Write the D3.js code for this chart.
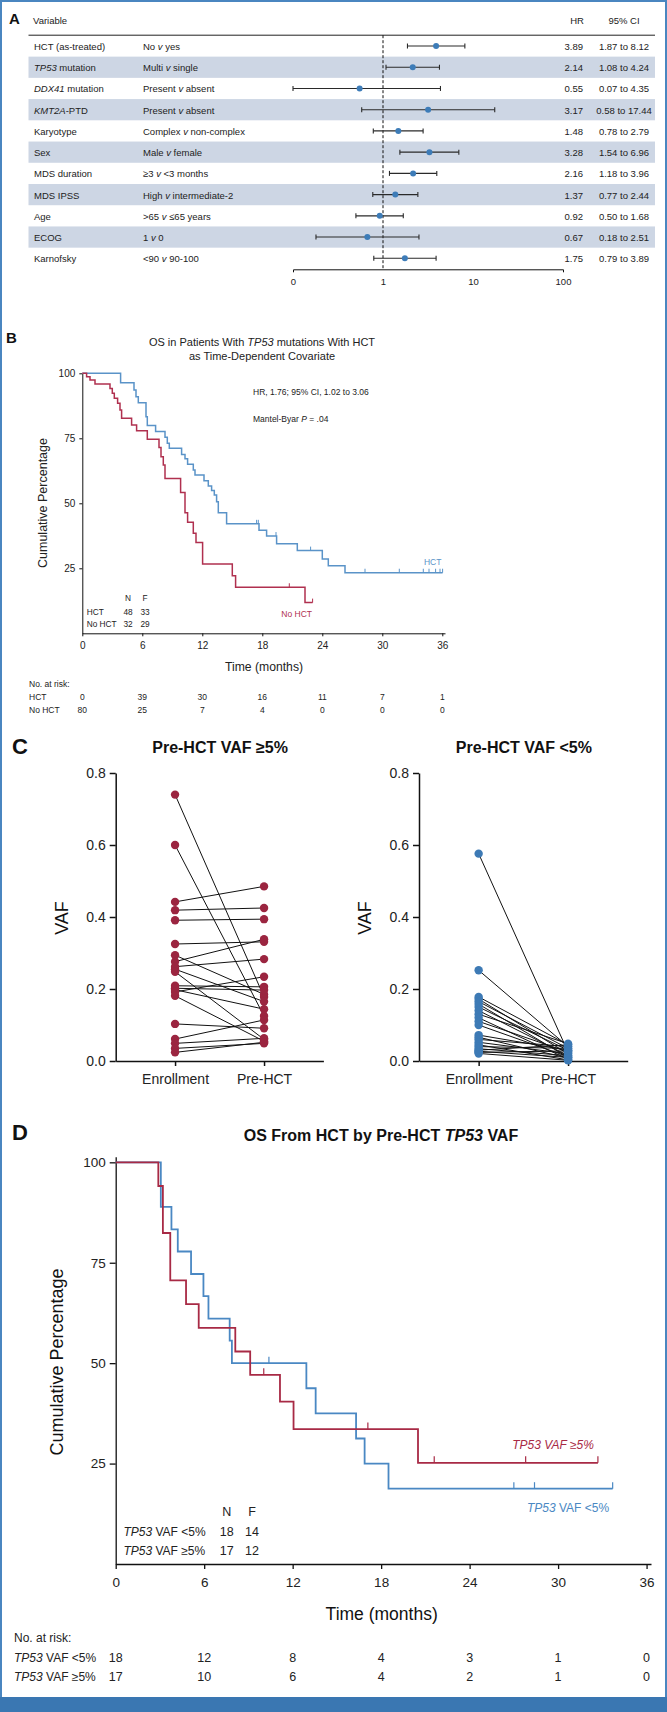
<!DOCTYPE html>
<html><head><meta charset="utf-8">
<script src="https://cdn.jsdelivr.net/npm/d3@7"></script>
<style>
body{margin:0;background:#fff;}
svg{display:block;font-family:"Liberation Sans",Arial,Helvetica,sans-serif;}
</style></head><body>
<svg id="fig" width="667" height="1712"></svg>
<script>
// ================= DATA =================
// Panel A: multivariable forest plot
const aVariables = ["HCT (as-treated)", "*TP53* mutation", "*DDX41* mutation", "*KMT2A*-PTD", "Karyotype", "Sex", "MDS duration", "MDS IPSS", "Age", "ECOG", "Karnofsky"];
const aComparisons = ["No *v* yes", "Multi *v* single", "Present *v* absent", "Present *v* absent", "Complex *v* non-complex", "Male *v* female", "≥3 *v* <3 months", "High *v* intermediate-2", ">65 *v* ≤65 years", "1 *v* 0", "<90 *v* 90-100"];
const aHR   = [3.89, 2.14, 0.55, 3.17, 1.48, 3.28, 2.16, 1.37, 0.92, 0.67, 1.75];
const aLow  = [1.87, 1.08, 0.07, 0.58, 0.78, 1.54, 1.18, 0.77, 0.50, 0.18, 0.79];
const aHigh = [8.12, 4.24, 4.35, 17.44, 2.79, 6.96, 3.96, 2.44, 1.68, 2.51, 3.89];
const aTicks = [0.1, 1, 10, 100];
const aTickLabels = ["0", "1", "10", "100"];

// Panel B: OS with HCT as time-dependent covariate
const bTicksX = [0, 6, 12, 18, 24, 30, 36];
const bTicksY = [25, 50, 75, 100];
const bHctTime = [0, 3.83, 5.17, 5.37, 5.6, 6.37, 6.5, 7.33, 8.27, 8.5, 8.7, 9.93, 10.27, 10.53, 11.1, 11.27, 12.17, 12.6, 12.93, 13.2, 13.43, 13.6, 14.43, 17.67, 18.43, 19.43, 21.5, 24.0, 24.6, 26.27, 36.03];
const bHctSurv = [100, 96.4, 93.6, 91.0, 88.7, 83.3, 79.9, 77.6, 75.4, 73.1, 71.2, 68.8, 67.1, 65.0, 62.8, 60.9, 58.7, 56.7, 54.9, 53.2, 50.6, 46.4, 42.1, 39.6, 37.4, 34.4, 31.8, 28.6, 26.0, 23.3, 23.3];
const bHctCensor = [17.43, 17.6, 19.37, 22.83, 28.27, 31.7, 34.1, 34.67, 35.33, 35.77, 36.03];
const bNoTime = [0, 0.43, 0.77, 1.27, 2.77, 3.0, 3.2, 3.53, 3.77, 3.93, 4.93, 5.43, 6.5, 7.67, 7.87, 8.1, 8.27, 9.83, 10.27, 10.53, 11.1, 11.37, 12.03, 15.0, 15.33, 22.27, 23.03];
const bNoSurv = [100, 98.7, 97.4, 95.9, 94.2, 92.3, 90.4, 88.5, 85.9, 82.7, 80.1, 77.9, 74.6, 71.5, 67.9, 64.7, 59.5, 54.2, 46.4, 42.7, 38.5, 34.9, 26.7, 22.1, 17.7, 11.8, 11.8];
const bNoCensor = [20.7, 23.03];
const bGroups = ["HCT", "No HCT"];
const bN = [48, 32];
const bF = [33, 29];
const bRiskHct = [0, 39, 30, 16, 11, 7, 1];
const bRiskNo = [80, 25, 7, 4, 0, 0, 0];

// Panel C: VAF at enrollment vs pre-HCT
const cCategories = ["Enrollment", "Pre-HCT"];
const cTicksY = [0, 0.2, 0.4, 0.6, 0.8];
const cHighEnroll = [0.74, 0.60, 0.442, 0.419, 0.391, 0.325, 0.294, 0.276, 0.262, 0.255, 0.248, 0.209, 0.202, 0.198, 0.192, 0.181, 0.103, 0.061, 0.049, 0.035, 0.024];
const cHighPre    = [0.178, 0.125, 0.485, 0.425, 0.394, 0.331, 0.185, 0.338, 0.283, 0.165, 0.06, 0.206, 0.197, 0.144, 0.234, 0.055, 0.091, 0.114, 0.063, 0.049, 0.052];
const cLowEnroll = [0.576, 0.252, 0.178, 0.172, 0.165, 0.158, 0.150, 0.140, 0.130, 0.120, 0.110, 0.100, 0.072, 0.066, 0.060, 0.052, 0.045, 0.040, 0.034, 0.030, 0.027, 0.024, 0.021];
const cLowPre    = [0.025, 0.040, 0.045, 0.020, 0.035, 0.010, 0.030, 0.015, 0.048, 0.005, 0.025, 0.012, 0.030, 0.008, 0.040, 0.020, 0.003, 0.035, 0.015, 0.045, 0.010, 0.028, 0.002];

// Panel D: OS from HCT by pre-HCT TP53 VAF
const dTicksX = [0, 6, 12, 18, 24, 30, 36];
const dTicksY = [25, 50, 75, 100];
const dLowTime = [0, 3.06, 3.78, 4.21, 5.11, 5.95, 6.29, 7.73, 7.88, 12.93, 13.56, 16.3, 16.88, 18.5, 33.7];
const dLowSurv = [100, 88.9, 83.3, 77.8, 72.2, 66.7, 61.1, 55.6, 50.0, 43.75, 37.5, 31.25, 25.0, 18.75, 18.75];
const dLowCensor = [10.39, 27.0, 28.4, 33.7];
const dHighTime = [0, 2.89, 3.2, 3.7, 4.77, 5.63, 8.11, 9.12, 11.14, 12.06, 20.5, 32.7];
const dHighSurv = [100, 94.1, 82.4, 70.6, 64.7, 58.8, 52.9, 47.1, 40.4, 33.6, 25.2, 25.2];
const dHighCensor = [10.04, 17.1, 21.6, 27.8, 32.7];
const dGroups = ["*TP53* VAF <5%", "*TP53* VAF ≥5%"];
const dN = [18, 17];
const dF = [14, 12];
const dRiskLow = [18, 12, 8, 4, 3, 1, 0];
const dRiskHigh = [17, 10, 6, 4, 2, 1, 0];

// ================= HELPERS =================
const svg = d3.select("#fig");
const BLUE_BORDER = "#4a86c0";
function rich(sel, str) {
  str.split("*").forEach((p, i) => {
    if (!p) return;
    const t = sel.append("tspan").text(p);
    if (i % 2) t.attr("font-style", "italic");
  });
  return sel;
}
function txt(x, y, str, opts = {}) {
  const t = svg.append("text").attr("x", x).attr("y", y)
    .attr("dominant-baseline", "central")
    .attr("font-size", opts.size || 10)
    .attr("text-anchor", opts.anchor || "start")
    .attr("fill", opts.fill || "#222");
  if (opts.weight) t.attr("font-weight", opts.weight);
  if (opts.italic) t.attr("font-style", "italic");
  if (opts.rotate) t.attr("transform", `rotate(-90,${x},${y})`);
  rich(t, str);
  return t;
}
function survAt(times, surv, t) {
  let s = surv[0];
  for (let i = 0; i < times.length; i++) if (times[i] <= t + 1e-9) s = surv[i];
  return s;
}
function styleAxis(g, size, color) {
  g.attr("font-family", null).attr("font-size", size);
  g.selectAll("text").attr("fill", color || "#222");
  g.selectAll("path,line").attr("stroke", "#111");
}

// ================= FRAME =================
svg.append("rect").attr("x", 1).attr("y", 1).attr("width", 665).attr("height", 1710)
  .attr("fill", "none").attr("stroke", BLUE_BORDER).attr("stroke-width", 2);
svg.append("rect").attr("x", 0).attr("y", 1697).attr("width", 667).attr("height", 15).attr("fill", "#3a77b2");

// ================= PANEL A =================
(function () {
  const n = aHR.length;
  const y = d3.scaleBand().domain(d3.range(n)).range([35.4, 268.9]);
  const x = d3.scaleLog().domain([0.1, 100]).range([293, 563]);
  svg.append("g").selectAll("rect").data(d3.range(n).filter(i => i % 2 === 1)).join("rect")
    .attr("x", 28.5).attr("y", i => y(i)).attr("width", 626.5).attr("height", y.bandwidth())
    .attr("fill", "#cdd6e4");
  svg.append("line").attr("x1", 28.5).attr("x2", 655).attr("y1", 35.2).attr("y2", 35.2)
    .attr("stroke", "#222").attr("stroke-width", 1);
  txt(9, 18, "A", { size: 15, weight: "bold", fill: "#111" });
  txt(33, 20, "Variable", { size: 9.5 });
  txt(577, 20, "HR", { size: 9.5, anchor: "middle" });
  txt(624, 20, "95% CI", { size: 9.5, anchor: "middle" });
  const ax = d3.axisBottom(x).tickValues(aTicks).tickFormat((d, i) => aTickLabels[i])
    .tickSizeInner(0).tickSizeOuter(3).tickPadding(9);
  const g = svg.append("g").attr("transform", "translate(0,269.3)").call(ax);
  styleAxis(g, 9.5);
  svg.append("line").attr("x1", x(1)).attr("x2", x(1)).attr("y1", 35.2).attr("y2", 269.3)
    .attr("stroke", "#111").attr("stroke-dasharray", "3,2").attr("stroke-width", 1);
  for (let i = 0; i < n; i++) {
    const cy = y(i) + y.bandwidth() / 2;
    txt(34, cy, aVariables[i], { size: 9.5 });
    txt(143, cy, aComparisons[i], { size: 9.5 });
    txt(583, cy, aHR[i].toFixed(2), { size: 9.5, anchor: "end" });
    txt(624, cy, aLow[i].toFixed(2) + " to " + aHigh[i].toFixed(2), { size: 9.5, anchor: "middle" });
    const x1 = x(Math.max(aLow[i], 0.1)), x2 = x(Math.min(aHigh[i], 100));
    const wg = svg.append("g").attr("stroke", "#2a2a2a").attr("stroke-width", 1.1);
    wg.append("line").attr("x1", x1).attr("x2", x2).attr("y1", cy).attr("y2", cy);
    wg.append("line").attr("x1", x1).attr("x2", x1).attr("y1", cy - 2.5).attr("y2", cy + 2.5);
    wg.append("line").attr("x1", x2).attr("x2", x2).attr("y1", cy - 2.5).attr("y2", cy + 2.5);
    svg.append("circle").attr("cx", x(aHR[i])).attr("cy", cy).attr("r", 3).attr("fill", "#3d7cb8");
  }
})();

// ================= PANEL B =================
(function () {
  const x = d3.scaleLinear().domain([0, 36.27]).range([82.3, 445]);
  const y = d3.scaleLinear().domain([0, 100]).range([633.3, 373.3]);
  const red = "#b0304f", blue = "#5a93c8";
  txt(6, 337, "B", { size: 15, weight: "bold", fill: "#111" });
  txt(262, 342, "OS in Patients With *TP53* mutations With HCT", { size: 11, anchor: "middle" });
  txt(262, 355.5, "as Time-Dependent Covariate", { size: 11, anchor: "middle" });
  const gy = svg.append("g").attr("transform", "translate(82.3,0)")
    .call(d3.axisLeft(y).tickValues(bTicksY).tickSize(3).tickSizeOuter(0).tickPadding(4));
  styleAxis(gy, 10);
  const gx = svg.append("g").attr("transform", "translate(0,633.3)")
    .call(d3.axisBottom(x).tickValues(bTicksX).tickSize(3).tickSizeOuter(0).tickPadding(6));
  styleAxis(gx, 10);
  txt(264, 667.3, "Time (months)", { size: 12.2, anchor: "middle" });
  txt(43, 503, "Cumulative Percentage", { size: 12.5, anchor: "middle", rotate: true });
  const line = d3.line().x(d => x(d[0])).y(d => y(d[1])).curve(d3.curveStepAfter);
  function km(times, surv, censor, color) {
    svg.append("path").datum(times.map((t, i) => [t, surv[i]])).attr("d", line)
      .attr("fill", "none").attr("stroke", color).attr("stroke-width", 1.5);
    svg.append("g").selectAll("line").data(censor).join("line")
      .attr("x1", d => x(d)).attr("x2", d => x(d))
      .attr("y1", d => y(survAt(times, surv, d))).attr("y2", d => y(survAt(times, surv, d)) - 4)
      .attr("stroke", color).attr("stroke-width", 1);
  }
  km(bHctTime, bHctSurv, bHctCensor, blue);
  km(bNoTime, bNoSurv, bNoCensor, red);
  txt(253, 391.7, "HR, 1.76; 95% CI, 1.02 to 3.06", { size: 8.5 });
  txt(253, 419, "Mantel-Byar *P* = .04", { size: 8.5 });
  txt(432.7, 561.7, "HCT", { size: 8.5, anchor: "middle", fill: blue });
  txt(296.7, 614.3, "No HCT", { size: 8.5, anchor: "middle", fill: red });
  txt(128, 598.3, "N", { size: 8.3, anchor: "middle" });
  txt(145, 598.3, "F", { size: 8.3, anchor: "middle" });
  bGroups.forEach((gname, i) => {
    const yy = 611.7 + i * 12.6;
    txt(86.7, yy, gname, { size: 8.3 });
    txt(128, yy, String(bN[i]), { size: 8.3, anchor: "middle" });
    txt(145, yy, String(bF[i]), { size: 8.3, anchor: "middle" });
  });
  txt(29, 684, "No. at risk:", { size: 8.5 });
  txt(29, 697, "HCT", { size: 8.5 });
  txt(29, 710.3, "No HCT", { size: 8.5 });
  bTicksX.forEach((t, i) => {
    txt(x(t), 697, String(bRiskHct[i]), { size: 8.5, anchor: "middle" });
    txt(x(t), 710.3, String(bRiskNo[i]), { size: 8.5, anchor: "middle" });
  });
})();

// ================= PANEL C =================
(function () {
  const y = d3.scaleLinear().domain([0, 0.8]).range([1061, 773]);
  txt(12, 746, "C", { size: 22, weight: "bold", fill: "#111" });
  function vafPlot(x0, x1, enroll, pre, color, title) {
    const x = d3.scalePoint().domain(cCategories).range([x0, x1]).padding(0.667);
    const cx = (x0 + x1) / 2;
    txt(cx + 0.5, 747.3, title, { size: 16, weight: "bold", anchor: "middle", fill: "#111" });
    const gy = svg.append("g").attr("transform", `translate(${x0},0)`)
      .call(d3.axisLeft(y).tickValues(cTicksY).tickFormat(d3.format(".1f")).tickSize(6).tickSizeOuter(0).tickPadding(4));
    styleAxis(gy, 14);
    const gx = svg.append("g").attr("transform", "translate(0,1061)")
      .call(d3.axisBottom(x).tickSize(5).tickSizeOuter(0).tickPadding(8));
    styleAxis(gx, 14);
    gy.selectAll("path,line").attr("stroke-width", 1.5);
    gx.selectAll("path,line").attr("stroke-width", 1.5);
    txt(x0 - 54, 918, "VAF", { size: 18, anchor: "middle", rotate: true, fill: "#111" });
    const pairs = enroll.map((e, i) => [e, pre[i]]);
    svg.append("g").selectAll("line").data(pairs).join("line")
      .attr("x1", x(cCategories[0])).attr("x2", x(cCategories[1]))
      .attr("y1", d => y(d[0])).attr("y2", d => y(d[1]))
      .attr("stroke", "#111").attr("stroke-width", 1);
    const g = svg.append("g").attr("fill", color);
    g.selectAll(".e").data(enroll).join("circle").attr("cx", x(cCategories[0])).attr("cy", d => y(d)).attr("r", 4.2);
    g.selectAll(".p").data(pre).join("circle").attr("cx", x(cCategories[1])).attr("cy", d => y(d)).attr("r", 4.2);
    svg.node().appendChild(svg.selectAll("line").filter(function(){return false;}).node() || document.createTextNode(""));
  }
  vafPlot(115.7, 323.4, cHighEnroll, cHighPre, "#9b2540", "Pre-HCT VAF ≥5%");
  vafPlot(419, 627.7, cLowEnroll, cLowPre, "#3d7ab5", "Pre-HCT VAF <5%");
})();

// ================= PANEL D =================
(function () {
  const x = d3.scaleLinear().domain([0, 36.3]).range([115.7, 651]);
  const y = d3.scaleLinear().domain([0, 101.4]).range([1564, 1156.7]);
  const red = "#a82a45", blue = "#4a88c3";
  txt(12, 1132, "D", { size: 22, weight: "bold", fill: "#111" });
  txt(381, 1135, "OS From HCT by Pre-HCT *TP53* VAF", { size: 16, weight: "bold", anchor: "middle", fill: "#111" });
  const gy = svg.append("g").attr("transform", "translate(115.7,0)")
    .call(d3.axisLeft(y).tickValues(dTicksY).tickSize(6).tickSizeOuter(0).tickPadding(4));
  styleAxis(gy, 13.5);
  const gx = svg.append("g").attr("transform", "translate(0,1564)")
    .call(d3.axisBottom(x).tickValues(dTicksX).tickSize(5).tickSizeOuter(0).tickPadding(8));
  styleAxis(gx, 13.5);
  gy.selectAll("path,line").attr("stroke-width", 1.3);
  gx.selectAll("path,line").attr("stroke-width", 1.3);
  txt(381.7, 1614.3, "Time (months)", { size: 17.5, anchor: "middle", fill: "#111" });
  txt(57.4, 1362, "Cumulative Percentage", { size: 18, anchor: "middle", rotate: true, fill: "#111" });
  const line = d3.line().x(d => x(d[0])).y(d => y(d[1])).curve(d3.curveStepAfter);
  function km(times, surv, censor, color) {
    svg.append("path").datum(times.map((t, i) => [t, surv[i]])).attr("d", line)
      .attr("fill", "none").attr("stroke", color).attr("stroke-width", 1.8);
    svg.append("g").selectAll("line").data(censor).join("line")
      .attr("x1", d => x(d)).attr("x2", d => x(d))
      .attr("y1", d => y(survAt(times, surv, d))).attr("y2", d => y(survAt(times, surv, d)) - 6.5)
      .attr("stroke", color).attr("stroke-width", 1.2);
  }
  km(dLowTime, dLowSurv, dLowCensor, blue);
  km(dHighTime, dHighSurv, dHighCensor, red);
  txt(553, 1445, "TP53 VAF ≥5%", { size: 12, anchor: "middle", fill: red, italic: true });
  txt(568, 1507.7, dGroups[0], { size: 12, anchor: "middle", fill: blue });
  txt(226.8, 1511.7, "N", { size: 12.5, anchor: "middle" });
  txt(252, 1511.7, "F", { size: 12.5, anchor: "middle" });
  dGroups.forEach((gname, i) => {
    const yy = 1531.7 + i * 19.3;
    txt(123.4, yy, gname, { size: 12 });
    txt(226.8, yy, String(dN[i]), { size: 12.5, anchor: "middle" });
    txt(252, yy, String(dF[i]), { size: 12.5, anchor: "middle" });
  });
  txt(14, 1638.3, "No. at risk:", { size: 12 });
  txt(14, 1657.7, dGroups[0], { size: 12 });
  txt(14, 1677.3, dGroups[1], { size: 12 });
  dTicksX.forEach((t, i) => {
    txt(x(t), 1657.7, String(dRiskLow[i]), { size: 12.5, anchor: "middle" });
    txt(x(t), 1677.3, String(dRiskHigh[i]), { size: 12.5, anchor: "middle" });
  });
})();
</script>
</body></html>
